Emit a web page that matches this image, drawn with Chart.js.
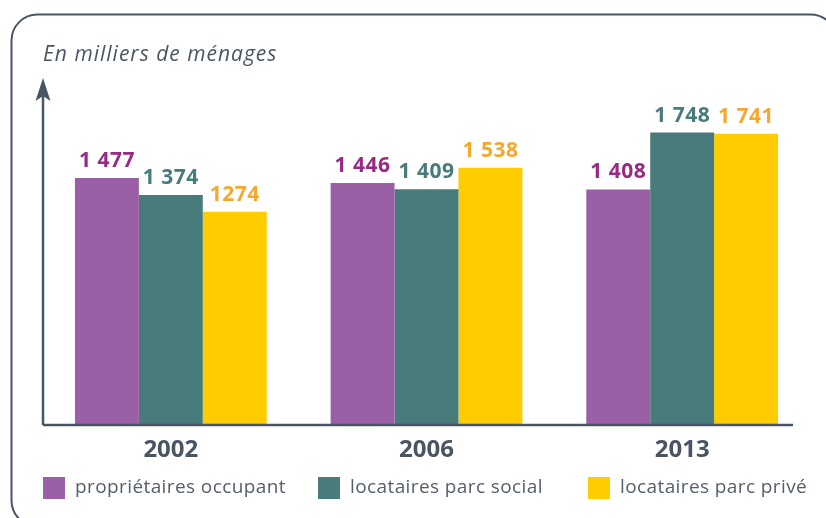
<!DOCTYPE html>
<html><head><meta charset="utf-8">
<script src="https://cdn.jsdelivr.net/npm/chart.js@4"></script>
<style>html,body{margin:0;padding:0;background:#fff;}#wrap{width:826px;height:518px;}</style>
</head><body><div id="wrap"><canvas id="c" width="826" height="518"></canvas></div>
<script>
const categories = ["2002", "2006", "2013"];
const seriesNames = ["propriétaires occupant", "locataires parc social", "locataires parc privé"];
const proprietaires = [1477, 1446, 1408];
const locSocial = [1374, 1409, 1748];
const locPrive = [1274, 1538, 1741];
const valueLabels = [
  ["1 477", "1 446", "1 408"],
  ["1 374", "1 409", "1 748"],
  ["1274", "1 538", "1 741"]
];
const titleText = "En milliers de ménages";

const barColors = ["#9B5FA5", "#477B7C", "#FFCC00"];
const labelColors = ["#962A85", "#477B7C", "#F5A830"];
const ink = "#4A5564";

const framePlugin = {
  id: "frame",
  beforeDraw(chart) {
    const ctx = chart.ctx;
    ctx.save();
    ctx.fillStyle = "#fff";
    ctx.fillRect(0, 0, chart.width, chart.height);
    ctx.strokeStyle = ink;
    ctx.lineWidth = 2;
    ctx.beginPath();
    ctx.roundRect(11.5, 14.5, 825, 512, 26);
    ctx.stroke();
    ctx.fillStyle = ink;
    ctx.font = "italic 21px 'Open Sans'";
    ctx.letterSpacing = "1px";
    ctx.textBaseline = "middle";
    ctx.textAlign = "left";
    ctx.fillText(titleText, 43, 55);
    ctx.restore();
  },
  afterDatasetsDraw(chart) {
    const ctx = chart.ctx;
    const area = chart.chartArea;
    ctx.save();
    // value labels
    ctx.font = "bold 21px 'Open Sans'";
    ctx.letterSpacing = "0.5px";
    ctx.textAlign = "center";
    ctx.textBaseline = "alphabetic";
    chart.data.datasets.forEach((ds, i) => {
      const meta = chart.getDatasetMeta(i);
      ctx.fillStyle = labelColors[i];
      meta.data.forEach((bar, j) => {
        ctx.fillText(valueLabels[i][j], bar.x, bar.y - 11);
      });
    });
    // axes
    ctx.strokeStyle = ink;
    ctx.fillStyle = ink;
    ctx.lineWidth = 2.5;
    ctx.beginPath();
    ctx.moveTo(area.left, area.bottom);
    ctx.lineTo(793, area.bottom);
    ctx.stroke();
    ctx.beginPath();
    ctx.moveTo(area.left, area.bottom);
    ctx.lineTo(area.left, 95);
    ctx.stroke();
    ctx.beginPath();
    ctx.moveTo(area.left, 78);
    ctx.lineTo(area.left - 7.5, 101);
    ctx.lineTo(area.left, 96);
    ctx.lineTo(area.left + 7.5, 101);
    ctx.closePath();
    ctx.fill();
    // legend
    const xs = [43, 318, 588];
    ctx.font = "19px 'Open Sans'";
    ctx.letterSpacing = "0.4px";
    ctx.textAlign = "left";
    ctx.textBaseline = "middle";
    seriesNames.forEach((n, i) => {
      ctx.fillStyle = barColors[i];
      ctx.fillRect(xs[i], 477, 22, 22);
      ctx.fillStyle = "#555E6B";
      ctx.fillText(n, xs[i] + 32, 488);
    });
    ctx.restore();
  }
};

new Chart(document.getElementById("c"), {
  type: "bar",
  data: {
    labels: categories,
    datasets: [
      { label: seriesNames[0], data: proprietaires, backgroundColor: barColors[0] },
      { label: seriesNames[1], data: locSocial, backgroundColor: barColors[1] },
      { label: seriesNames[2], data: locPrive, backgroundColor: barColors[2] }
    ]
  },
  options: {
    responsive: false,
    animation: false,
    devicePixelRatio: 1,
    layout: { padding: { left: 43, right: 16, top: 80, bottom: 0 } },
    datasets: { bar: { categoryPercentage: 0.75, barPercentage: 1.0 } },
    plugins: { legend: { display: false }, tooltip: { enabled: false } },
    scales: {
      x: {
        grid: { display: false },
        border: { display: false },
        ticks: { color: ink, font: { family: "'Open Sans'", size: 24, weight: "bold" }, padding: 3 },
        afterFit(scale) { scale.height = 93; }
      },
      y: {
        display: false,
        min: 0,
        max: 2062
      }
    }
  },
  plugins: [framePlugin]
});
</script>
</body></html>
